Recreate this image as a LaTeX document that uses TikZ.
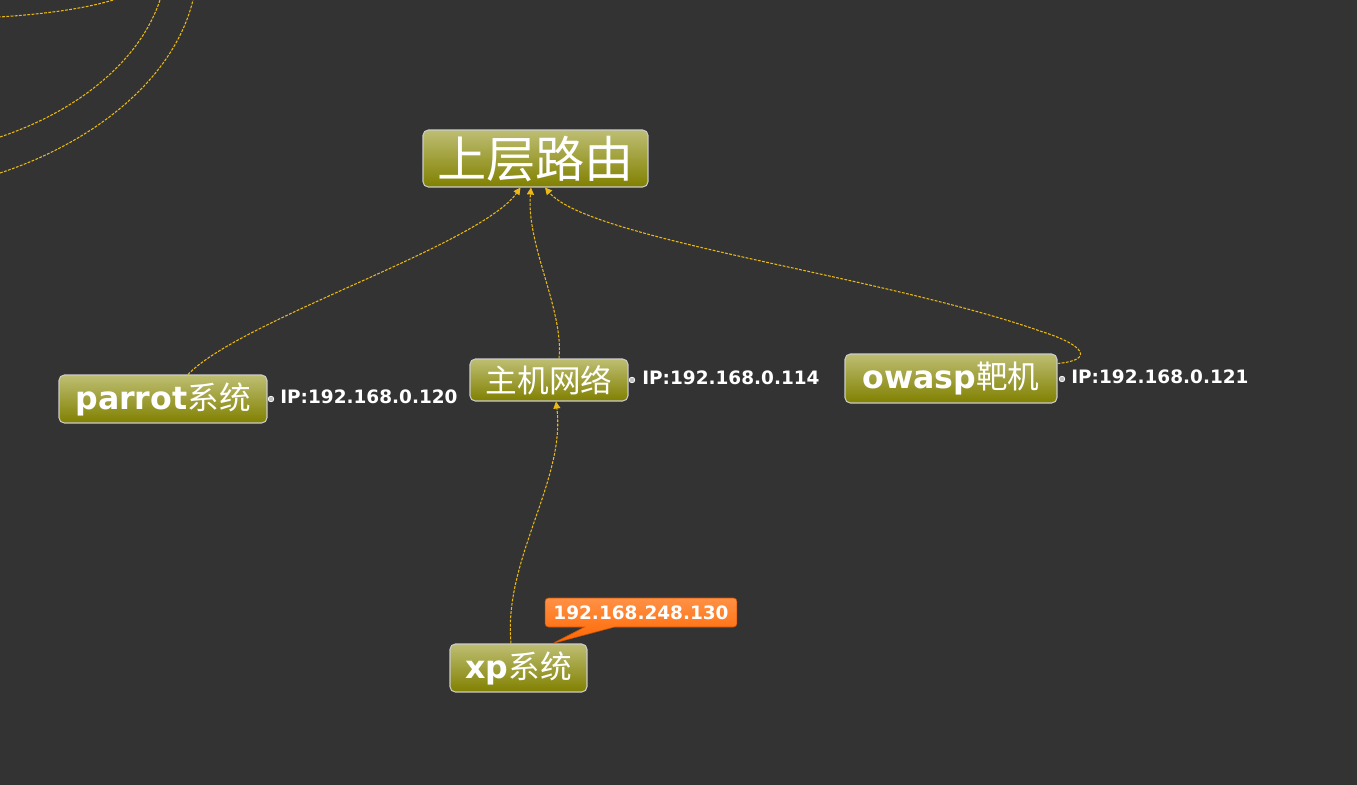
\documentclass[tikz,border=0pt]{standalone}
\usepackage{fontspec}
\setmainfont{DejaVu Sans}
\newfontfamily\cjk{Noto Sans CJK SC}
\usetikzlibrary{arrows.meta,shapes.callouts}
\definecolor{bg}{RGB}{51,51,51}
\definecolor{olivedark}{RGB}{128,128,0}
\definecolor{olivelight}{RGB}{190,190,115}
\definecolor{linegold}{RGB}{235,185,20}
\definecolor{orangedark}{RGB}{255,102,0}
\definecolor{orangelight}{RGB}{255,145,70}
\begin{document}
\begin{tikzpicture}[x=0.02cm, y=-0.02cm,
    box/.style={rectangle, rounded corners=3pt, draw=gray!40!white, line width=0.6pt,
        top color=olivelight, middle color=olivedark, bottom color=olivedark,
        text=white, inner sep=0pt},
    link/.style={linegold, line width=0.6pt, dash pattern=on 1.6pt off 0.8pt,
        -{Triangle[length=4pt,width=4pt]}},
    ip/.style={anchor=west, inner sep=0pt, text=white, font=\fontsize{10.5}{12}\selectfont\bfseries},
    dot/.style={circle, draw=white, fill=gray!50, line width=0.4pt, inner sep=0pt, minimum size=3.2pt}]
    \useasboundingbox[fill=bg] (0,0) rectangle (1357,785);

    % lines coming from outside the view
    \draw[link, -] (-40,19) .. controls (40,16) and (100,8) .. (135,-8);
    \draw[link, -] (0,137) .. controls (80,110) and (140,60) .. (160,0);
    \draw[link, -] (0,173) .. controls (100,140) and (175,75) .. (193,0);

    \node (1) at (535.5,158.5) [box, minimum width=4.5cm, minimum height=1.14cm]
        {\fontsize{28}{30}\selectfont\cjk 上层路由};
    \node (2) at (163,399) [box, minimum width=4.16cm, minimum height=0.96cm]
        {\fontsize{18}{20}\selectfont\bfseries parrot{\cjk\mdseries 系统}};
    \node (3) at (549,380) [box, minimum width=3.16cm, minimum height=0.84cm]
        {\fontsize{18}{20}\selectfont\cjk 主机网络};
    \node (4) at (951,378.5) [box, minimum width=4.24cm, minimum height=0.98cm]
        {\fontsize{18}{20}\selectfont\bfseries owasp{\cjk\mdseries 靶机}};
    \node (5) at (518.5,668) [box, minimum width=2.74cm, minimum height=0.96cm]
        {\fontsize{18}{20}\selectfont\bfseries xp{\cjk\mdseries 系统}};
    \node (6) at (641,612.5) [rectangle callout, callout absolute pointer={([xshift=0.68cm]5.north)},
        callout pointer width=0.6cm, rounded corners=2pt, draw=orangedark!80!black, line width=0.3pt,
        top color=orangelight, bottom color=orangedark, text=white, inner sep=0pt,
        minimum width=3.84cm, minimum height=0.58cm,
        font=\fontsize{10.5}{12}\selectfont\bfseries] {192.168.248.130};

    % address labels
    \node (2b) at (271,399) [dot] {};
    \node (2a) at (280,397) [ip] {IP:192.168.0.120};
    \node (3b) at (632,380) [dot] {};
    \node (3a) at (642,378) [ip] {IP:192.168.0.114};
    \node (4b) at (1062,379) [dot] {};
    \node (4a) at (1071,377) [ip] {IP:192.168.0.121};

    \draw[link] ([xshift=0.5cm]2.north) .. controls (240,320) and (480,245) .. ([xshift=-0.3cm]1.south);
    \draw[link] ([xshift=0.2cm]3.north) .. controls (564,310) and (526,245) .. ([xshift=-0.09cm]1.south);
    \draw[link] ([yshift=0.3cm]4.east) .. controls (1095,360) and (1085,345) .. (1040,331)
        .. controls (880,275) and (590,240) .. ([xshift=0.19cm]1.south);
    \draw[link] ([xshift=-0.15cm]5.north) .. controls (503,560) and (566,480) .. ([xshift=0.14cm]3.south);
\end{tikzpicture}
\end{document}
